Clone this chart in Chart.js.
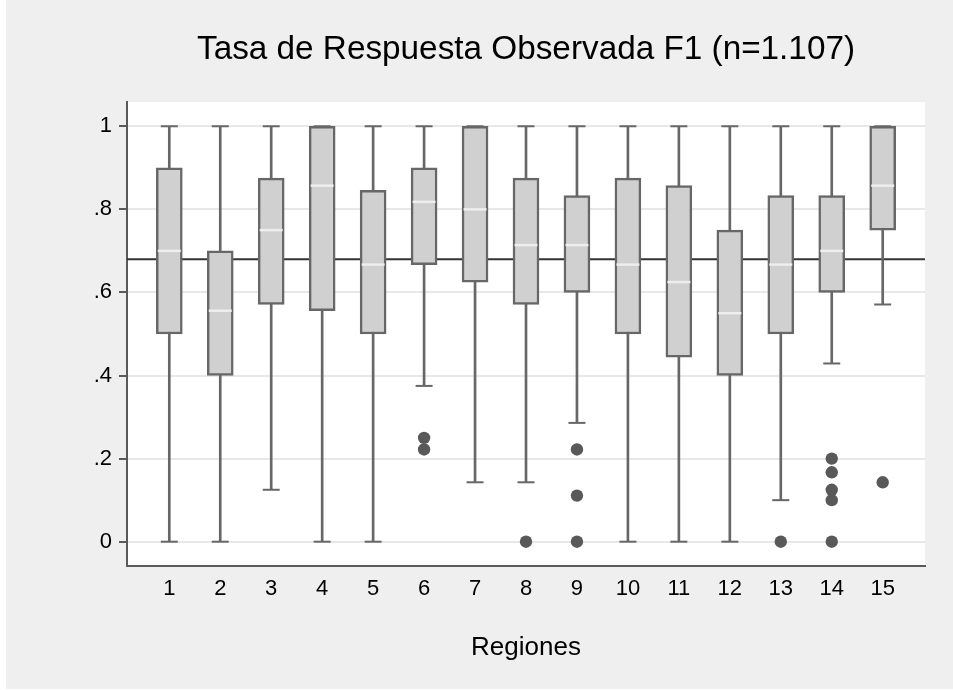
<!DOCTYPE html>
<html>
<head>
<meta charset="utf-8">
<script src="https://cdn.jsdelivr.net/npm/chart.js@4.4.1/dist/chart.umd.min.js"></script>
<style>
  html, body { margin: 0; padding: 0; background: #ffffff; }
  #wrap { position: absolute; left: 6px; top: 0; width: 947px; height: 689px; background: #efefef; }
</style>
</head>
<body>
<div id="wrap"><canvas id="boxplot_f1" width="947" height="689"></canvas></div>
<script>

// datos por region (cuartiles, mediana, bigotes)
var regions = [1, 2, 3, 4, 5, 6, 7, 8, 9, 10, 11, 12, 13, 14, 15];
var q1 = [0.5, 0.4, 0.571, 0.556, 0.5, 0.667, 0.625, 0.571, 0.6, 0.5, 0.444, 0.4, 0.5, 0.6, 0.75];
var median = [0.7, 0.556, 0.75, 0.857, 0.667, 0.818, 0.8, 0.714, 0.714, 0.667, 0.625, 0.55, 0.667, 0.7, 0.857];
var q3 = [0.9, 0.7, 0.875, 1, 0.846, 0.9, 1, 0.875, 0.833, 0.875, 0.857, 0.75, 0.833, 0.833, 1];
var whiskerLow = [0, 0, 0.125, 0, 0, 0.375, 0.143, 0.143, 0.286, 0, 0, 0, 0.1, 0.429, 0.571];
var whiskerHigh = [1, 1, 1, 1, 1, 1, 1, 1, 1, 1, 1, 1, 1, 1, 1];

// valores atipicos
var outlierRegion = [6, 6, 8, 9, 9, 9, 13, 14, 14, 14, 14, 14, 15];
var outlierValue = [0.25, 0.222, 0, 0.222, 0.111, 0, 0, 0.2, 0.167, 0.125, 0.1, 0, 0.143];

// tasa global (linea de referencia)
var refValue = 0.68;

var yTicks = [0, 0.2, 0.4, 0.6, 0.8, 1];
var yTickLabels = ["0", ".2", ".4", ".6", ".8", "1"];
var yMin = -0.0585, yMax = 1.0585;
var xMin = 0.17, xMax = 15.83;

Chart.defaults.font.family = "'Liberation Sans', Arial, sans-serif";
Chart.defaults.color = "#000000";

var boxData = [], whiskerData = [], medianData = [], capData = [], outlierData = [];
for (var i in regions) {
  boxData.push({x: regions[i], y: [q1[i], q3[i]]});
  whiskerData.push({x: regions[i], y: [whiskerLow[i], whiskerHigh[i]]});
  medianData.push({x: regions[i], y: median[i]});
  capData.push({x: regions[i], y: whiskerLow[i]});
  capData.push({x: regions[i], y: whiskerHigh[i]});
}
for (var j in outlierRegion) {
  outlierData.push({x: outlierRegion[j], y: outlierValue[j]});
}

// fondo blanco del area de grafico
var plotBackground = {
  id: 'plotBackground',
  beforeDraw: function(chart) {
    var a = chart.chartArea, ctx = chart.ctx;
    ctx.save();
    ctx.fillStyle = '#ffffff';
    ctx.fillRect(a.left, a.top, a.right - a.left, a.bottom - a.top);
    ctx.restore();
  }
};

new Chart(document.getElementById("boxplot_f1"), {
    type: 'bar',
    data: {
      datasets: [
        {
          type: 'scatter',
          label: "Mediana",
          data: medianData,
          pointStyle: 'line',
          pointRadius: 11.5,
          pointBorderWidth: 2.5,
          pointBorderColor: '#eeeeee',
          pointBackgroundColor: '#eeeeee'
        },
        {
          label: "Caja",
          data: boxData,
          grouped: false,
          barThickness: 26,
          backgroundColor: '#d0d0d0',
          borderColor: '#676767',
          borderWidth: 2.5,
          borderSkipped: false
        },
        {
          type: 'scatter',
          label: "Extremos",
          data: capData,
          pointStyle: 'line',
          pointRadius: 8.5,
          pointBorderWidth: 2,
          pointBorderColor: '#676767'
        },
        {
          label: "Bigotes",
          data: whiskerData,
          grouped: false,
          barThickness: 2,
          backgroundColor: '#676767',
          borderWidth: 0
        },
        {
          type: 'scatter',
          label: "Atipicos",
          data: outlierData,
          pointStyle: 'circle',
          pointRadius: 6.2,
          pointBorderWidth: 0,
          pointBackgroundColor: '#595959'
        },
        {
          type: 'line',
          label: "Tasa global",
          data: [{x: xMin, y: refValue}, {x: xMax, y: refValue}],
          borderColor: '#333333',
          borderWidth: 2,
          pointRadius: 0
        }
      ]
    },
    options: {
      responsive: false,
      animation: false,
      layout: { padding: { left: 0, right: 28, top: 0, bottom: 0 } },
      plugins: {
        legend: { display: false },
        tooltip: { enabled: false },
        title: {
          display: true,
          fullSize: false,
          text: 'Tasa de Respuesta Observada F1 (n=1.107)',
          color: '#000000',
          font: { size: 33.3, weight: 'normal' },
          padding: { top: 29.5, bottom: 32.5 }
        }
      },
      scales: {
        x: {
          type: 'linear',
          offset: false,
          min: xMin,
          max: xMax,
          afterBuildTicks: function(scale) {
            scale.ticks = regions.map(function(r) { return {value: r}; });
          },
          afterFit: function(scale) { scale.height = 123; },
          ticks: {
            autoSkip: false,
            maxRotation: 0,
            padding: 9.5,
            font: { size: 22 },
            callback: function(value) { return String(value); }
          },
          grid: { display: false, drawTicks: false },
          border: { display: true, color: '#5a5a5a', width: 2 },
          title: {
            display: true,
            text: 'Regiones',
            font: { size: 26 },
            padding: { top: 0, bottom: 25.4 }
          }
        },
        y: {
          min: yMin,
          max: yMax,
          afterBuildTicks: function(scale) {
            scale.ticks = yTicks.map(function(v) { return {value: v}; });
          },
          afterFit: function(scale) { scale.width = 121; },
          ticks: {
            padding: 7,
            font: { size: 22 },
            callback: function(value, index) { return yTickLabels[index]; }
          },
          grid: { color: '#e8e8e8', lineWidth: 2, tickColor: '#5a5a5a', tickLength: 8, tickWidth: 2 },
          border: { color: '#5a5a5a', width: 2 }
        }
      }
    },
    plugins: [plotBackground]
});

</script>
</body>
</html>
